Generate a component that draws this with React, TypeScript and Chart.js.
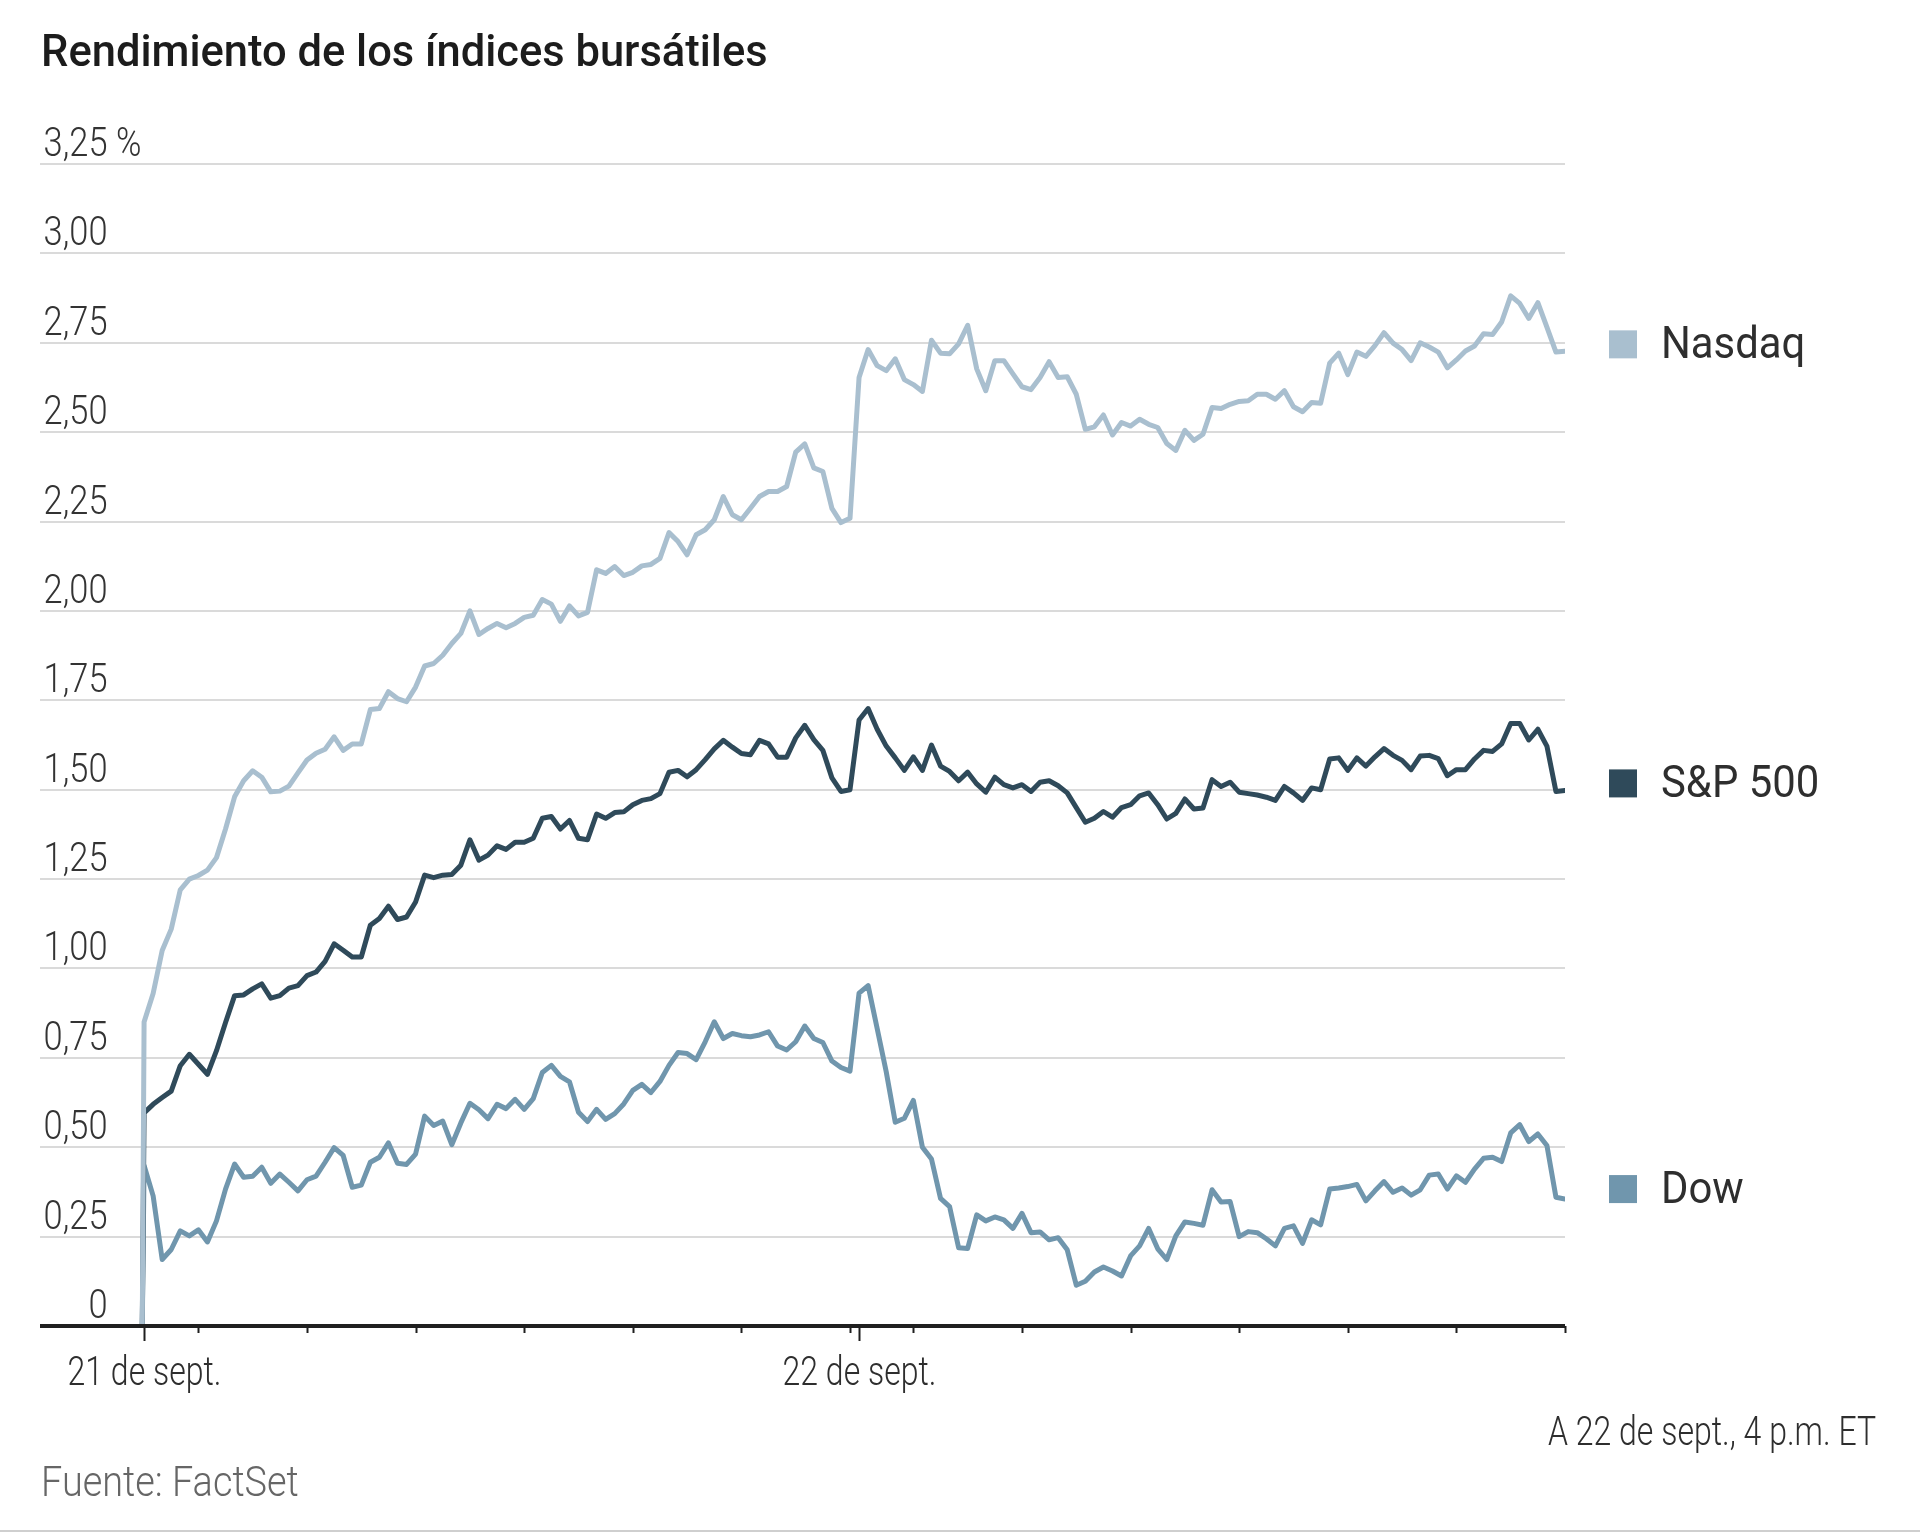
import React, { useEffect, useRef } from "react";
import { Chart, registerables } from "chart.js";

Chart.register(...registerables);

const W = 1920;
const H = 1532;

const title = "Rendimiento de los índices bursátiles";
const note = "A 22 de sept., 4 p.m. ET";
const source = "Fuente: FactSet";

// x axis: minutes of trading session (9:30 = 0); day 2 opens one 5-min step after day 1 close
const dayLabels = ["21 de sept.", "22 de sept."];
const dayOpenMinute = [0, 395];
const hourTickMinutes = [30, 90, 150, 210, 270, 330, 390, 425, 485, 545, 605, 665, 725, 785];
const prevCloseMinute = -1;
const stepMinutes = 5;

const yTicks = [0, 0.25, 0.5, 0.75, 1, 1.25, 1.5, 1.75, 2, 2.25, 2.5, 2.75, 3, 3.25];
const yTickLabels = ["0", "0,25", "0,50", "0,75", "1,00", "1,25", "1,50", "1,75", "2,00", "2,25", "2,50", "2,75", "3,00", "3,25"];
const yUnit = " %";

const seriesNames = ["Nasdaq", "S&P 500", "Dow"];
const seriesColors = ["#a9bfcf", "#2f4a5a", "#7096ad"];
const legendNudge = [-7, -7, -10];

const nasdaqDay1 = [
  0.85, 0.93, 1.05, 1.11, 1.22, 1.25, 1.26, 1.275, 1.31, 1.39,
  1.48, 1.525, 1.553, 1.535, 1.494, 1.496, 1.51, 1.547, 1.583, 1.602,
  1.613, 1.648, 1.61, 1.628, 1.628, 1.724, 1.727, 1.774, 1.755, 1.746,
  1.787, 1.846, 1.853, 1.876, 1.909, 1.937, 2.0, 1.934, 1.951, 1.965,
  1.953, 1.965, 1.982, 1.988, 2.032, 2.019, 1.971, 2.014, 1.986, 1.996,
  2.115, 2.105, 2.124, 2.099, 2.108, 2.126, 2.13, 2.147, 2.219, 2.194,
  2.157, 2.213, 2.227, 2.255, 2.32, 2.269, 2.255, 2.287, 2.32, 2.334,
  2.334, 2.348, 2.444, 2.467, 2.4, 2.39, 2.287, 2.247, 2.259,
];
const nasdaqDay2 = [
  2.653, 2.731, 2.686, 2.672, 2.705, 2.647, 2.633, 2.614, 2.757, 2.721,
  2.719, 2.747, 2.799, 2.677, 2.616, 2.7, 2.7, 2.663, 2.627, 2.619,
  2.653, 2.697, 2.653, 2.655, 2.606, 2.508, 2.515, 2.548, 2.492, 2.527,
  2.517, 2.536, 2.522, 2.513, 2.468, 2.449, 2.505, 2.477, 2.494, 2.569,
  2.566, 2.578, 2.586, 2.588, 2.606, 2.606, 2.592, 2.616, 2.571, 2.557,
  2.583, 2.581, 2.693, 2.721, 2.661, 2.724, 2.712, 2.742, 2.778, 2.749,
  2.731, 2.7, 2.75, 2.738, 2.724, 2.68, 2.702, 2.727, 2.741, 2.775,
  2.773, 2.808, 2.881, 2.86, 2.818, 2.862, 2.794, 2.724, 2.726,
];
const spDay1 = [
  0.596, 0.62, 0.639, 0.657, 0.728, 0.76, 0.732, 0.704, 0.77, 0.849,
  0.924, 0.926, 0.943, 0.957, 0.917, 0.924, 0.945, 0.952, 0.98, 0.99,
  1.02, 1.069, 1.051, 1.032, 1.032, 1.121, 1.14, 1.174, 1.137, 1.144,
  1.186, 1.261, 1.254, 1.261, 1.263, 1.289, 1.36, 1.303, 1.317, 1.343,
  1.333, 1.353, 1.353, 1.364, 1.42, 1.425, 1.39, 1.414, 1.364, 1.36,
  1.432, 1.42, 1.436, 1.438, 1.458, 1.47, 1.475, 1.489, 1.549, 1.554,
  1.536, 1.556, 1.584, 1.614, 1.638, 1.619, 1.601, 1.598, 1.638, 1.628,
  1.591, 1.591, 1.645, 1.68, 1.64, 1.61, 1.533, 1.495, 1.5,
];
const spDay2 = [
  1.695, 1.727, 1.669, 1.622, 1.589, 1.554, 1.592, 1.554, 1.625, 1.566,
  1.551, 1.525, 1.549, 1.516, 1.493, 1.535, 1.514, 1.505, 1.514, 1.495,
  1.521, 1.525, 1.511, 1.491, 1.45, 1.409, 1.42, 1.439, 1.423, 1.45,
  1.458, 1.483, 1.491, 1.458, 1.418, 1.434, 1.474, 1.446, 1.449, 1.528,
  1.509, 1.521, 1.493, 1.489, 1.485, 1.479, 1.47, 1.509, 1.491, 1.47,
  1.505, 1.5, 1.586, 1.589, 1.554, 1.589, 1.566, 1.592, 1.615, 1.596,
  1.582, 1.556, 1.594, 1.596, 1.587, 1.539, 1.556, 1.556, 1.586, 1.61,
  1.607, 1.628, 1.685, 1.685, 1.639, 1.669, 1.622, 1.495, 1.498,
];
const dowDay1 = [
  0.449, 0.364, 0.186, 0.214, 0.266, 0.252, 0.269, 0.235, 0.294, 0.383,
  0.453, 0.416, 0.419, 0.444, 0.399, 0.425, 0.402, 0.378, 0.409, 0.419,
  0.458, 0.499, 0.477, 0.388, 0.394, 0.458, 0.472, 0.512, 0.455, 0.452,
  0.481, 0.587, 0.561, 0.573, 0.507, 0.568, 0.623, 0.605, 0.58, 0.62,
  0.608, 0.634, 0.606, 0.636, 0.709, 0.729, 0.698, 0.683, 0.598, 0.572,
  0.606, 0.578, 0.594, 0.621, 0.659, 0.676, 0.653, 0.684, 0.729, 0.765,
  0.762, 0.745, 0.795, 0.851, 0.804, 0.818, 0.812, 0.809, 0.814, 0.823,
  0.783, 0.772, 0.795, 0.839, 0.804, 0.793, 0.741, 0.723, 0.713,
];
const dowDay2 = [
  0.931, 0.952, 0.832, 0.711, 0.57, 0.581, 0.631, 0.5, 0.467, 0.357,
  0.334, 0.219, 0.217, 0.311, 0.294, 0.305, 0.297, 0.273, 0.315, 0.261,
  0.263, 0.241, 0.247, 0.213, 0.114, 0.125, 0.151, 0.165, 0.154, 0.14,
  0.196, 0.224, 0.273, 0.216, 0.186, 0.252, 0.291, 0.287, 0.282, 0.381,
  0.347, 0.348, 0.25, 0.264, 0.261, 0.244, 0.224, 0.273, 0.28, 0.231,
  0.297, 0.283, 0.383, 0.386, 0.39, 0.396, 0.35, 0.378, 0.404, 0.374,
  0.386, 0.366, 0.381, 0.422, 0.425, 0.383, 0.42, 0.402, 0.439, 0.469,
  0.472, 0.46, 0.54, 0.563, 0.516, 0.537, 0.505, 0.36, 0.355,
];

function buildPoints(day1: number[], day2: number[]) {
  const pts: { x: number; y: number }[] = [{ x: prevCloseMinute, y: 0 }];
  day1.forEach((v, k) => pts.push({ x: dayOpenMinute[0] + k * stepMinutes, y: v }));
  day2.forEach((v, k) => pts.push({ x: dayOpenMinute[1] + k * stepMinutes, y: v }));
  return pts;
}

// draw real text, horizontally condensed to mimic a narrow typeface
function text(
  ctx: CanvasRenderingContext2D,
  str: string,
  x: number,
  y: number,
  font: string,
  color: string,
  align: CanvasTextAlign,
  sx: number
) {
  ctx.save();
  ctx.font = font;
  ctx.fillStyle = color;
  ctx.textAlign = align;
  ctx.textBaseline = "alphabetic";
  ctx.translate(x, y);
  ctx.scale(sx, 1);
  ctx.fillText(str, 0, 0);
  ctx.restore();
}

const LIGHT = (px: number) => `300 ${px}px Roboto, sans-serif`;
const REG = (px: number) => `400 ${px}px Roboto, sans-serif`;

const decorPlugin = {
  id: "decor",
  beforeDraw(chart: any) {
    const ctx = chart.ctx;
    ctx.save();
    ctx.fillStyle = "#ffffff";
    ctx.fillRect(0, 0, chart.width, chart.height);
    ctx.restore();
  },
  afterDatasetsDraw(chart: any) {
    const ctx: CanvasRenderingContext2D = chart.ctx;
    const xs = chart.scales.x;
    const ys = chart.scales.y;
    const area = chart.chartArea;
    ctx.save();

    // title
    text(ctx, title, 41, 66, `500 43.5px Roboto, sans-serif`, "#1c1c1c", "left", 1);

    // y labels
    const labelRight = area.left + 67.5;
    yTicks.forEach((v, i) => {
      const py = ys.getPixelForValue(v);
      text(ctx, yTickLabels[i], labelRight, py - 8, LIGHT(41), "#333333", "right", 0.84);
      if (i === yTicks.length - 1) {
        text(ctx, yUnit, labelRight, py - 8, LIGHT(41), "#333333", "left", 0.84);
      }
    });

    // x axis line
    const y0 = ys.getPixelForValue(0);
    ctx.strokeStyle = "#1f1f1f";
    ctx.lineWidth = 4;
    ctx.beginPath();
    ctx.moveTo(area.left, y0);
    ctx.lineTo(area.right, y0);
    ctx.stroke();

    // ticks
    ctx.lineWidth = 2;
    hourTickMinutes.forEach((m) => {
      const px = Math.round(xs.getPixelForValue(m)) + 0.5;
      ctx.beginPath();
      ctx.moveTo(px, y0);
      ctx.lineTo(px, y0 + 7);
      ctx.stroke();
    });
    dayOpenMinute.forEach((m, i) => {
      const px = Math.round(xs.getPixelForValue(m)) + 0.5;
      ctx.beginPath();
      ctx.moveTo(px, y0);
      ctx.lineTo(px, y0 + 15);
      ctx.stroke();
      text(ctx, dayLabels[i], px, y0 + 59, LIGHT(40), "#2e2e2e", "center", 0.8);
    });

    // legend, placed at each series' last value
    chart.data.datasets.forEach((ds: any, i: number) => {
      const last = ds.data[ds.data.length - 1].y;
      const cy = ys.getPixelForValue(last) + legendNudge[i];
      ctx.fillStyle = seriesColors[i];
      ctx.fillRect(1609, cy - 14, 28, 28);
      text(ctx, seriesNames[i], 1661, cy + 14, REG(45), "#2e2e2e", "left", 0.93);
    });

    // footer
    text(ctx, note, 1876, 1445, LIGHT(40), "#2e2e2e", "right", 0.8);
    text(ctx, source, 41, 1496, LIGHT(43), "#666666", "left", 0.88);

    // bottom rule
    ctx.strokeStyle = "#cfcfcf";
    ctx.lineWidth = 2;
    ctx.beginPath();
    ctx.moveTo(0, H - 1);
    ctx.lineTo(W, H - 1);
    ctx.stroke();

    ctx.restore();
  },
};

export default function App() {
  const ref = useRef<HTMLCanvasElement | null>(null);
  useEffect(() => {
    document.body.style.margin = "0";
    document.body.style.background = "#ffffff";
    if (!ref.current) return;
    const all = [
      buildPoints(nasdaqDay1, nasdaqDay2),
      buildPoints(spDay1, spDay2),
      buildPoints(dowDay1, dowDay2),
    ];
    const chart = new Chart(ref.current, {
      type: "line",
      data: {
        datasets: all.map((pts, i) => ({
          label: seriesNames[i],
          data: pts,
          borderColor: seriesColors[i],
          borderWidth: 5,
          pointRadius: 0,
          tension: 0,
          borderJoinStyle: "round" as const,
          borderCapStyle: "round" as const,
          fill: false,
        })),
      },
      options: {
        responsive: false,
        animation: false,
        devicePixelRatio: 1,
        layout: { padding: { left: 40, right: 355, top: 164, bottom: 206 } },
        plugins: { legend: { display: false }, tooltip: { enabled: false }, title: { display: false } },
        scales: {
          x: { type: "linear", display: false, min: -57.5, max: 785 },
          y: {
            type: "linear",
            min: 0,
            max: 3.25,
            ticks: { display: false, stepSize: 0.25 },
            grid: { color: "#dadada", lineWidth: 2, drawTicks: false },
            border: { display: false },
          },
        },
      },
      plugins: [decorPlugin],
    });
    return () => chart.destroy();
  }, []);
  return <canvas ref={ref} width={W} height={H} style={{ display: "block", width: W, height: H }} />;
}
